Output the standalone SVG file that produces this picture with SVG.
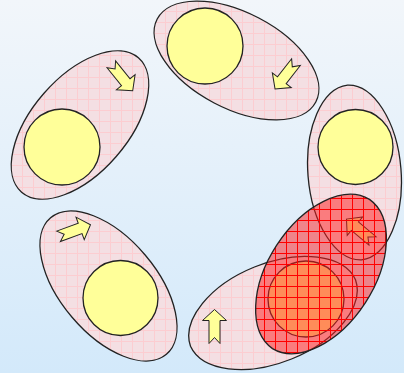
<svg xmlns="http://www.w3.org/2000/svg" xmlns:xlink="http://www.w3.org/1999/xlink" width="404" height="373" viewBox="0 0 404 373">
<defs>
<linearGradient id="bg" x1="0" y1="0" x2="0" y2="1">
<stop offset="0" stop-color="#f2f6fa"/>
<stop offset="1" stop-color="#d3e9fa"/>
</linearGradient>
<pattern id="pinkgrid" patternUnits="userSpaceOnUse" width="11" height="11">
<rect width="11" height="11" fill="#f4dfe3"/>
<path d="M0 0.5H11M0.5 0V11" stroke="#fccdd1" stroke-width="1"/>
</pattern>
<pattern id="redgrid" patternUnits="userSpaceOnUse" width="11" height="11">
<rect width="11" height="11" fill="#ff1a1a" fill-opacity="0.5"/>
<path d="M0 0.5H11M0.5 0V11" stroke="#ff0000" stroke-width="1"/>
</pattern>
<path id="arr" d="M-17,-5.5 L6,-5.5 L6,-12 L17,0 L6,12 L6,5.5 L-17,5.5 L-11,0 Z"/>
</defs>
<style>
.shell{fill:url(#pinkgrid);stroke:#222;stroke-width:1.3}
.core{fill:#ffff99;stroke:#222;stroke-width:1.3}
.arrow{fill:#ffff99;stroke:#222;stroke-width:1}
.sel{fill:url(#redgrid);stroke:#222;stroke-width:1.3}
</style>
<rect width="404" height="373" fill="url(#bg)"/>
<g id="node1">
<path class="shell" d="M138.4,57.8 A89,48 -49 0 1 21.6,192.2 A89,48 -49 0 1 138.4,57.8 Z"/>
<circle class="core" cx="62" cy="147" r="38"/>
</g>
<g id="node2">
<path class="shell" d="M315.8,102 A89.5,48 27.6 0 1 157.2,19 A89.5,48 27.6 0 1 315.8,102 Z"/>
<circle class="core" cx="205" cy="46" r="38"/>
</g>
<g id="node3">
<path class="shell" d="M361.5,259.9 A87.7,47.6 85.4 0 1 347.5,85.1 A87.7,47.6 85.4 0 1 361.5,259.9 Z"/>
<circle class="core" cx="355.5" cy="147" r="37.5"/>
</g>
<g id="node4">
<path class="shell" d="M166.4,354.3 A89.5,48 49.7 0 1 50.6,217.7 A89.5,48 49.7 0 1 166.4,354.3 Z"/>
<circle class="core" cx="120.5" cy="298" r="37.5"/>
</g>
<g id="node5">
<path class="shell" d="M355.5,279.7 A89,51 -22 0 1 190.5,346.3 A89,51 -22 0 1 355.5,279.7 Z"/>
<circle class="core" cx="306" cy="299" r="38"/>
</g>
<g id="connectors">
<use href="#arr" xlink:href="#arr" class="arrow" transform="translate(122 77.5) rotate(51)"/>
<use href="#arr" xlink:href="#arr" class="arrow" transform="translate(285.5 75.5) rotate(128)"/>
<use href="#arr" xlink:href="#arr" class="arrow" transform="translate(359.5 230) rotate(-140)"/>
<use href="#arr" xlink:href="#arr" class="arrow" transform="translate(214.5 326.5) rotate(-90)"/>
<use href="#arr" xlink:href="#arr" class="arrow" transform="translate(74.5 230.5) rotate(-20)"/>
</g>
<g id="selection">
<path class="sel" d="M369.5,199.4 A89,54 -57 0 1 272.5,348.6 A89,54 -57 0 1 369.5,199.4 Z"/>
</g>
</svg>
